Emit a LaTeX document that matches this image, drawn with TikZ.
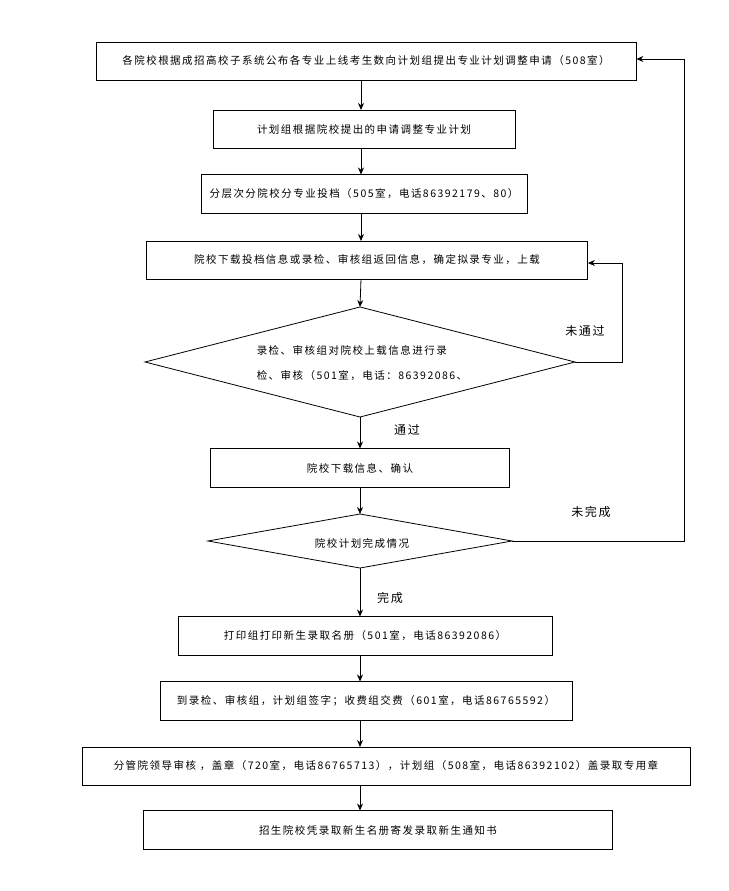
\documentclass[tikz,border=0pt]{standalone}
\usepackage{fontspec}
\setmainfont{Noto Sans CJK SC}[LetterSpace=14]
\usetikzlibrary{shapes.geometric,arrows.meta}
\begin{document}
\begin{tikzpicture}[x=1pt,y=-1pt,
  every node/.style={font=\fontsize{10.5}{13}\selectfont},
  bx/.style={draw,rectangle,inner sep=0pt,line width=0.8pt},
  ar/.style={-{Stealth[length=7pt,width=6pt]},line width=0.8pt},
  ln/.style={line width=0.8pt}]
\useasboundingbox (0,0) rectangle (728,891);
\node[bx,minimum width=540pt,minimum height=38pt] (b1) at (366,61) {各院校根据成招高校子系统公布各专业上线考生数向计划组提出专业计划调整申请（508室）};
\node[bx,minimum width=302pt,minimum height=38pt] (b2) at (364,129) {计划组根据院校提出的申请调整专业计划};
\node[bx,minimum width=326pt,minimum height=39pt] (b3) at (364,194) {分层次分院校分专业投档（505室，电话86392179、80）};
\node[bx,minimum width=441pt,minimum height=38pt] (b4) at (367,260) {院校下载投档信息或录检、审核组返回信息，确定拟录专业，上载};
\draw[ln] (145,362) coordinate (d1w) -- (360,307) coordinate (d1n) -- (575,362) coordinate (d1e) -- (360,417) coordinate (d1s) -- cycle;
\node (d1) at (362,364) {\begin{tabular}{l}录检、审核组对院校上载信息进行录\\[12pt]检、审核（501室，电话：86392086、\end{tabular}};
\node[bx,minimum width=299pt,minimum height=39pt] (b5) at (360,468) {院校下载信息、确认};
\draw[ln] (208,541) coordinate (d2w) -- (360,514) coordinate (d2n) -- (512,541) coordinate (d2e) -- (360,568) coordinate (d2s) -- cycle;
\node (d2) at (362,543) {院校计划完成情况};
\node[bx,minimum width=374pt,minimum height=39pt] (b6) at (365,636) {打印组打印新生录取名册（501室，电话86392086）};
\node[bx,minimum width=412pt,minimum height=39pt] (b7) at (366,701) {到录检、审核组，计划组签字；收费组交费（601室，电话86765592）};
\node[bx,minimum width=608pt,minimum height=38pt] (b8) at (386,766) {分管院领导审核\ ，盖章（720室，电话86765713），计划组（508室，电话86392102）盖录取专用章};
\node[bx,minimum width=469pt,minimum height=39pt] (b9) at (378,830) {招生院校凭录取新生名册寄发录取新生通知书};
\draw[ar] (361,80) -- (361,110);
\draw[ar] (361,148) -- (361,174.5);
\draw[ar] (361,213.5) -- (361,241);
\draw[ar] (361,279) -- (d1n);
\draw[ar] (d1s) -- (360,448.5);
\draw[ar] (360,487.5) -- (d2n);
\draw[ar] (d2s) -- (360,616.5);
\draw[ar] (360,655.5) -- (360,681.5);
\draw[ar] (360,720.5) -- (360,747);
\draw[ar] (360,785) -- (360,810.5);
\draw[ar] (d1e) -- (622,362) -- (622,263) -- (b4.east |- 0,263);
\draw[ar] (d2e) -- (684,541) -- (684,59) -- (b1.east |- 0,59);
\node (l1) at (585,331) {\fontsize{12}{14}\selectfont 未通过};
\node (l2) at (407,430) {\fontsize{12}{14}\selectfont 通过};
\node (l3) at (591,512) {\fontsize{12}{14}\selectfont 未完成};
\node (l4) at (390,598) {\fontsize{12}{14}\selectfont 完成};
\end{tikzpicture}
\end{document}
